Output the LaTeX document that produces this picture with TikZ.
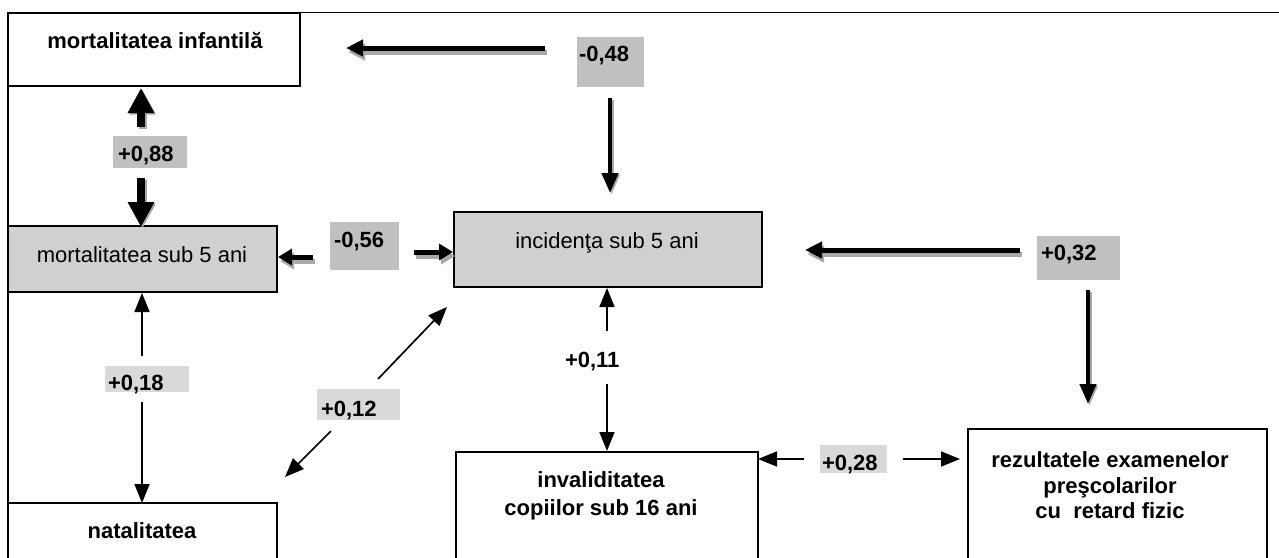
\documentclass[tikz,border=0pt]{standalone}
\usepackage{fontspec}
\setmainfont{Liberation Sans}
\usetikzlibrary{arrows.meta}
\definecolor{nodegray}{HTML}{D0D0D0}
\definecolor{labdark}{HTML}{C0C0C0}
\definecolor{lablight}{HTML}{D9D9D9}
\definecolor{shadowgray}{HTML}{A8A8A8}
\tikzset{
  box/.style={draw=black, line width=1.6pt, inner sep=0pt, outer sep=0pt},
  graybox/.style={box, fill=nodegray},
  labd/.style={fill=labdark, draw=none, inner sep=0pt, outer sep=0pt},
  labl/.style={fill=lablight, draw=none, inner sep=0pt, outer sep=0pt},
  txt/.style={inner sep=0pt, outer sep=0pt, anchor=base, font=\fontsize{22pt}{26pt}\selectfont},
  btxt/.style={txt, font=\fontsize{22pt}{26pt}\selectfont\bfseries},
  ltxt/.style={btxt, anchor=base west},
  bigarrow/.style={line width=5pt, -{Triangle[length=17pt,width=16pt]}},
  midarrow/.style={line width=4.5pt, -{Triangle[length=20pt,width=16pt]}},
  fatarrow/.style={line width=8pt, -{Triangle[length=25pt,width=25pt]}},
  smallfat/.style={line width=5pt, -{Triangle[length=14pt,width=16pt]}},
  thinarrow/.style={line width=1.7pt, -{Triangle[length=19pt,width=15pt]}},
  shadowed/.style={draw=shadowgray, transform canvas={shift={(2pt,-4pt)}}},
  lightshadow/.style={draw=shadowgray, transform canvas={shift={(1.5pt,-1.5pt)}}},
}
\begin{document}
\begin{tikzpicture}[x=1pt,y=-1pt]
\useasboundingbox (0,0) rectangle (1279,557);
\clip (0,0) rectangle (1279,557);
\fill[white] (0,0) rectangle (1279,557);

% frame
\draw[line width=1.5pt] (8,12.5) -- (1279,12.5);
\draw[line width=1.5pt] (8,12.5) -- (8,557);

% main boxes
\node[box, minimum width=292pt, minimum height=73pt] (inf) at (154,49.5) {};
\node[graybox, minimum width=269pt, minimum height=66pt] (m5) at (142.5,259) {};
\node[graybox, minimum width=308pt, minimum height=75pt] (inc) at (608,249.5) {};
\node[box, minimum width=269pt, minimum height=77pt] (nat) at (142.5,541.5) {};
\node[box, minimum width=302pt, minimum height=128pt] (inv) at (607,516) {};
\node[box, minimum width=299pt, minimum height=151pt] (rez) at (1117.5,504.5) {};

% box texts
\node[btxt] (tinf) at (155,48) {mortalitatea infantilă};
\node[txt] (tm5) at (142,262) {mortalitatea sub 5 ani};
\node[txt] (tinc) at (607,248) {incidenţa sub 5 ani};
\node[btxt] (tnat) at (142,538) {natalitatea};
\node[btxt] (tinv1) at (601,487) {invaliditatea};
\node[btxt] (tinv2) at (601,515) {copiilor sub 16 ani};
\node[btxt] (trez1) at (1110,467) {rezultatele examenelor};
\node[btxt] (trez2) at (1110,493) {preşcolarilor};
\node[btxt] (trez3) at (1110,518) {cu\ \ retard fizic};

% label boxes
\node[labd, minimum width=67pt, minimum height=50pt] (L048) at (610.5,62) {};
\node[labd, minimum width=74pt, minimum height=32pt] (L088) at (150,152) {};
\node[labd, minimum width=69pt, minimum height=48pt] (L056) at (364.5,246) {};
\node[labd, minimum width=83pt, minimum height=44pt] (L032) at (1078.5,258) {};
\node[labl, minimum width=84pt, minimum height=26pt] (L018) at (147,379) {};
\node[labl, minimum width=83pt, minimum height=31pt] (L012) at (358.5,404.5) {};
\node[labl, minimum width=67pt, minimum height=28pt] (L028) at (853.5,459) {};

% label texts
\node[ltxt] (t048) at (579,61) {-0,48};
\node[ltxt] (t088) at (118,161) {+0,88};
\node[ltxt] (t056) at (334,247) {-0,56};
\node[ltxt] (t032) at (1041,260) {+0,32};
\node[ltxt] (t018) at (108,390) {+0,18};
\node[ltxt] (t012) at (321,416) {+0,12};
\node[ltxt] (t011) at (565,367) {+0,11};
\node[ltxt] (t028) at (822,470) {+0,28};

% free ends of connectors
\coordinate (a1s) at (545,48);   \coordinate (a1e) at (346,48);
\coordinate (a2s) at (610,98);   \coordinate (a2e) at (610,193);
\coordinate (a3s) at (141,127);  \coordinate (a3e) at (141,88);
\coordinate (a4s) at (141,178);  \coordinate (a4e) at (141,227);
\coordinate (a5s) at (313,257);  \coordinate (a5e) at (278,257);
\coordinate (a6s) at (414,252);  \coordinate (a6e) at (453,252);
\coordinate (a7s) at (1020,250); \coordinate (a7e) at (805,250);
\coordinate (a8s) at (1088,290); \coordinate (a8e) at (1088,404);
\coordinate (a9s) at (142,356);  \coordinate (a9e) at (142,293);
\coordinate (a10s) at (142,402); \coordinate (a10e) at (142,503);
\coordinate (a11s) at (378,379); \coordinate (a11e) at (447,307);
\coordinate (a12s) at (331,431); \coordinate (a12e) at (285,477);
\coordinate (a13s) at (607,331); \coordinate (a13e) at (607,288);
\coordinate (a14s) at (607,384); \coordinate (a14e) at (607,451);
\coordinate (a15s) at (804,459); \coordinate (a15e) at (758,459);
\coordinate (a16s) at (903,459); \coordinate (a16e) at (960,459);

% shadows
\draw[bigarrow, shadowed] (a1s) -- (a1e);
\draw[bigarrow, shadowed] (a7s) -- (a7e);
\draw[smallfat, shadowed] (a5s) -- (a5e);
\draw[smallfat, shadowed] (a6s) -- (a6e);
\draw[midarrow, lightshadow] (a2s) -- (a2e);
\draw[midarrow, lightshadow] (a8s) -- (a8e);
\draw[fatarrow, lightshadow] (a3s) -- (a3e);
\draw[fatarrow, lightshadow] (a4s) -- (a4e);

% connectors
\draw[bigarrow] (a1s) -- (a1e);
\draw[midarrow] (a2s) -- (a2e);
\draw[fatarrow] (a3s) -- (a3e);
\draw[fatarrow] (a4s) -- (a4e);
\draw[smallfat] (a5s) -- (a5e);
\draw[smallfat] (a6s) -- (a6e);
\draw[bigarrow] (a7s) -- (a7e);
\draw[midarrow] (a8s) -- (a8e);
\draw[thinarrow] (a9s) -- (a9e);
\draw[thinarrow] (a10s) -- (a10e);
\draw[thinarrow] (a11s) -- (a11e);
\draw[thinarrow] (a12s) -- (a12e);
\draw[thinarrow] (a13s) -- (a13e);
\draw[thinarrow] (a14s) -- (a14e);
\draw[thinarrow] (a15s) -- (a15e);
\draw[thinarrow] (a16s) -- (a16e);
\end{tikzpicture}
\end{document}
